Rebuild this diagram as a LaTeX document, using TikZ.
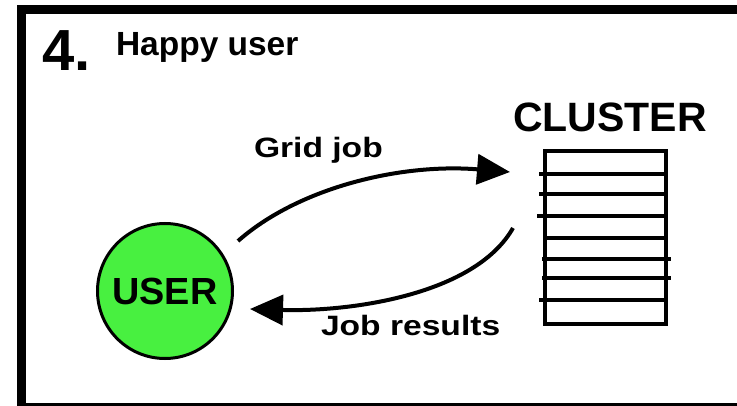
\documentclass[tikz,border=0pt]{standalone}
\usepackage{fontspec}
\setmainfont{Liberation Sans}
\usetikzlibrary{arrows.meta}
\definecolor{usergreen}{RGB}{72,240,64}
\tikzset{
  txt/.style={inner sep=0pt, outer sep=0pt, font=\bfseries},
  conn/.style={line width=4pt, -{Triangle[length=33pt,width=30pt]}},
  rack/.style={line width=4pt},
}
\newcommand{\fs}[1]{\fontsize{#1}{#1}\selectfont}
\begin{document}
\begin{tikzpicture}[x=1pt,y=-1pt]
\useasboundingbox (0,0) rectangle (737,406);
\clip (0,0) rectangle (737,406);
\fill[white] (0,0) rectangle (737,406);
% frame
\draw[line width=9pt] (21.5,9.5) rectangle (780,407);
% title
\node[txt, anchor=base west] (num) at (42,71) {\fs{58}4.};
\node[txt, anchor=base west] (title) at (116,56) {\fs{33.5}Happy user};
% cluster
\node[txt, anchor=base west] (clabel) at (513,132) {\fs{41}CLUSTER};
\node[rack, draw, rectangle, minimum width=121pt, minimum height=173pt, inner sep=0pt] (cluster) at (605.5,237.5) {};
\draw[rack] (539,173.7) -- (666,173.7);
\draw[rack] (539,194) -- (666,194);
\draw[rack] (537,215.7) -- (666,215.7);
\draw[rack] (545,237.7) -- (666,237.7);
\draw[rack] (542,259) -- (671,259);
\draw[rack] (542,278.3) -- (671,278.3);
\draw[rack] (539,300) -- (666,300);
% user
\node[draw, circle, line width=3pt, fill=usergreen, minimum size=135pt, inner sep=0pt, font=\bfseries\fs{37.8}] (user) at (165,291) {USER};
% connectors
\coordinate (gs) at (238,241);
\coordinate (ge) at (510,172);
\coordinate (rs) at (513,228);
\coordinate (re) at (250,309);
\draw[conn] (gs) .. controls (298,188) and (400,163) .. (ge);
\draw[conn] (rs) .. controls (475,295) and (350,312) .. (re);
% labels
\node[txt, anchor=base west] (gl) at (254,158) {\fs{28}\scalebox{1.2}[1]{Grid job}};
\node[txt, anchor=base west] (rl) at (321,335) {\fs{28}\scalebox{1.2}[1]{Job results}};
\end{tikzpicture}
\end{document}
